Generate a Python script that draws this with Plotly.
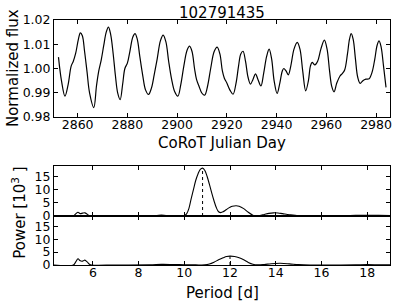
import plotly.graph_objects as go

# ---- Light curve ----
day = [2852.3, 2853.5, 2854.9, 2856.2, 2857.4, 2858.2, 2859.2, 2860.3, 2861.1, 2861.9,
       2862.8, 2863.8, 2864.8, 2866.5, 2867.6, 2868.5, 2869.5, 2870.5, 2871.5, 2872.4,
       2873.3, 2874.3, 2875.2, 2876.1, 2877.1, 2878.1, 2879.0, 2880.0, 2881.0, 2882.2,
       2883.1, 2884.0, 2885.0, 2886.2, 2887.3, 2888.5, 2889.7, 2890.8, 2892.0, 2893.3,
       2894.4, 2895.5, 2896.6, 2897.8, 2899.0, 2900.3, 2901.5, 2902.7, 2904.0, 2905.0,
       2906.0, 2907.0, 2907.8, 2908.7, 2910.0, 2911.1, 2912.3, 2913.5, 2914.9, 2916.1,
       2917.2, 2918.2, 2919.0, 2920.0, 2921.3, 2922.5, 2923.7, 2924.7, 2925.6, 2926.5,
       2927.5, 2928.5, 2929.5, 2930.5, 2931.5, 2932.5, 2933.7, 2934.8, 2936.0, 2937.0,
       2938.0, 2939.0, 2940.2, 2941.3, 2942.3, 2942.9, 2943.8, 2944.7, 2945.7, 2947.0,
       2948.3, 2949.4, 2950.5, 2951.7, 2952.8, 2953.6, 2954.3, 2955.4, 2956.5, 2957.8,
       2959.2, 2960.3, 2961.3, 2962.2, 2963.1, 2964.2, 2965.5, 2966.5, 2967.4, 2968.5,
       2969.3, 2970.0, 2970.8, 2971.7, 2972.6, 2973.6, 2974.7, 2975.9, 2977.2, 2978.4,
       2979.5, 2980.4, 2981.2, 2982.0, 2983.0, 2984.0]
flux = [1.0047, 0.9950, 0.9886, 0.9935, 1.0010, 1.0028, 1.0062, 1.0120, 1.0147, 1.0135,
        1.0070, 0.9985, 0.9900, 0.9839, 0.9930, 0.9990, 1.0036, 1.0095, 1.0150, 1.0171,
        1.0140, 1.0060, 0.9970, 0.9900, 0.9872, 0.9935, 1.0000, 1.0022, 1.0070, 1.0130,
        1.0144, 1.0120, 1.0050, 0.9970, 0.9912, 0.9893, 0.9920, 0.9975, 1.0040, 1.0115,
        1.0138, 1.0110, 1.0030, 0.9955, 0.9905, 0.9886, 0.9935, 1.0010, 1.0075, 1.0092,
        1.0070, 1.0000, 0.9955, 0.9930, 0.9898, 0.9890, 0.9930, 1.0000, 1.0070, 1.0088,
        1.0060, 0.9990, 0.9960, 0.9940, 0.9910, 0.9894, 0.9940, 1.0010, 1.0060, 1.0071,
        1.0030, 0.9965, 0.9936, 0.9955, 0.9978, 0.9955, 0.9928, 0.9980, 1.0050, 1.0080,
        1.0040, 0.9950, 0.9897, 0.9940, 0.9990, 1.0000, 0.9990, 0.9974, 1.0010, 1.0080,
        1.0108, 1.0080, 0.9990, 0.9908, 0.9950, 1.0010, 1.0025, 1.0015, 1.0030, 1.0080,
        1.0117, 1.0080, 0.9990, 0.9925, 0.9904, 0.9940, 0.9969, 0.9980, 0.9995, 1.0060,
        1.0120, 1.0144, 1.0120, 1.0040, 0.9965, 0.9939, 0.9950, 0.9956, 0.9958, 0.9985,
        1.0040, 1.0095, 1.0114, 1.0090, 1.0010, 0.9922]

# ---- Periodogram, upper panel ----
period1 = [4.3, 5.15, 5.25, 5.35, 5.45, 5.55, 5.65, 5.75, 5.85, 5.95, 7.0, 8.5, 8.8, 9.0, 9.2,
           9.5, 9.8, 10.0, 10.1, 10.2, 10.3, 10.4, 10.5, 10.6, 10.7, 10.8, 10.9, 11.0, 11.1,
           11.2, 11.3, 11.4, 11.5, 11.6, 11.7, 11.8, 11.9, 12.0, 12.1, 12.27, 12.4, 12.6, 12.8,
           13.0, 13.1, 13.3, 13.5, 13.7, 13.9, 14.1, 14.3, 14.6, 15.0, 15.5, 16.0, 16.5, 17.0,
           17.5, 18.0, 18.5, 19.0]
power1 = [0.0, 0.0, 0.8, 1.4, 0.9, 1.1, 1.2, 0.7, 0.1, 0.0, 0.0, 0.05, 0.2, 0.35, 0.2,
          0.1, 0.2, 0.1, 0.8, 2.8, 6.5, 10.0, 13.5, 16.0, 17.7, 18.2, 17.3, 15.0, 12.0,
          8.8, 5.8, 3.2, 1.6, 1.3, 1.6, 2.2, 2.8, 3.3, 3.7, 3.9, 3.7, 2.8, 1.4,
          0.3, 0.05, 0.2, 0.6, 1.0, 1.2, 1.15, 0.9, 0.5, 0.1, 0.0, 0.05, 0.05, 0.1,
          0.25, 0.3, 0.25, 0.15]

# ---- Periodogram, lower panel ----
period2 = [4.3, 5.15, 5.25, 5.35, 5.45, 5.55, 5.65, 5.75, 5.85, 5.95, 7.0, 8.5, 9.0, 9.5,
           10.0, 10.5, 10.9, 11.1, 11.3, 11.5, 11.7, 11.85, 12.0, 12.2, 12.4, 12.6, 12.8,
           13.0, 13.2, 13.5, 13.8, 14.2, 14.6, 15.0, 15.5, 16.5, 17.5, 18.0, 18.5, 19.0]
power2 = [0.0, 0.0, 1.2, 2.4, 1.6, 1.5, 1.9, 1.2, 0.3, 0.0, 0.0, 0.05, 0.25, 0.2,
          0.1, 0.05, 0.05, 0.4, 1.1, 2.0, 2.8, 3.3, 3.45, 3.3, 2.8, 2.0, 1.0,
          0.3, 0.05, 0.2, 0.5, 0.65, 0.45, 0.15, 0.0, 0.0, 0.1, 0.15, 0.1, 0.05]

day_ticks = [2860, 2880, 2900, 2920, 2940, 2960, 2980]
flux_ticks = [0.98, 0.99, 1.00, 1.01, 1.02]
period_ticks = [6, 8, 10, 12, 14, 16, 18]
power_ticks = [0, 5, 10, 15]

FONT = "DejaVu Sans"

fig = go.Figure()
fig.add_trace(go.Scatter(x=day, y=flux, mode="lines",
                         line=dict(color="black", width=1.2, shape="spline", smoothing=1.0),
                         xaxis="x", yaxis="y", showlegend=False, hoverinfo="skip"))

i1 = power1.index(max(power1))
i2 = power2.index(max(power2))
fig.add_trace(go.Scatter(x=[period1[i1], period1[i1]], y=[0, power1[i1]], mode="lines",
                         line=dict(color="black", width=1, dash="dot"), xaxis="x2", yaxis="y2",
                         showlegend=False, hoverinfo="skip"))
fig.add_trace(go.Scatter(x=period1, y=power1, mode="lines",
                         line=dict(color="black", width=1.1, shape="spline"),
                         xaxis="x2", yaxis="y2", showlegend=False, hoverinfo="skip"))
fig.add_trace(go.Scatter(x=[period2[i2], period2[i2]], y=[0, power2[i2]], mode="lines",
                         line=dict(color="black", width=1, dash="dot"), xaxis="x3", yaxis="y3",
                         showlegend=False, hoverinfo="skip"))
fig.add_trace(go.Scatter(x=period2, y=power2, mode="lines",
                         line=dict(color="black", width=1.1, shape="spline"),
                         xaxis="x3", yaxis="y3", showlegend=False, hoverinfo="skip"))

common = dict(showline=True, linecolor="black", linewidth=1, mirror="ticks", ticks="inside",
              ticklen=4, tickcolor="black", showgrid=False, zeroline=False, automargin=False,
              tickfont=dict(family=FONT, size=12.5, color="black"))

fig.update_layout(
    width=407, height=305,
    margin=dict(l=54, r=17, t=20, b=40),
    paper_bgcolor="white", plot_bgcolor="white",
    font=dict(family=FONT, color="black"),
    xaxis=dict(domain=[0, 1], anchor="y", range=[2850.5, 2985.6], tickvals=day_ticks,
               ticktext=[str(v) for v in day_ticks], ticklabelstandoff=-4, **common),
    yaxis=dict(domain=[0.604, 1], anchor="x", range=[0.98, 1.02], tickvals=flux_ticks,
               ticktext=["%.2f" % v for v in flux_ticks], **common),
    xaxis2=dict(domain=[0, 1], anchor="y2", range=[4.3, 19], tickvals=period_ticks,
                showticklabels=False, **common),
    yaxis2=dict(domain=[0.2, 0.404], anchor="x2", range=[0, 19], tickvals=power_ticks,
                ticktext=[str(v) for v in power_ticks], **common),
    xaxis3=dict(domain=[0, 1], anchor="y3", range=[4.3, 19], tickvals=period_ticks,
                ticktext=[str(v) for v in period_ticks], ticklabelstandoff=-4, **common),
    yaxis3=dict(domain=[0, 0.2], anchor="x3", range=[0, 19], tickvals=power_ticks,
                ticktext=[str(v) for v in power_ticks], **common),
    annotations=[
        dict(text="102791435", x=0.5, y=1.0298, xref="paper", yref="paper", showarrow=False,
             xanchor="center", yanchor="middle", font=dict(family=FONT, size=15, color="black")),
        dict(text="CoRoT Julian Day", x=0.5, y=0.498, xref="paper", yref="paper", showarrow=False,
             xanchor="center", yanchor="middle", font=dict(family=FONT, size=15, color="black")),
        dict(text="Normalized flux", x=-0.122, y=0.804, xref="paper", yref="paper", showarrow=False,
             textangle=-90, xanchor="center", yanchor="middle",
             font=dict(family=FONT, size=15, color="black")),
        dict(text="Power [10<sup>3</sup> ]", x=-0.105, y=0.212, xref="paper", yref="paper",
             showarrow=False, textangle=-90, xanchor="center", yanchor="middle",
             font=dict(family=FONT, size=15, color="black")),
        dict(text="Period [d]", x=0.5, y=-0.114, xref="paper", yref="paper", showarrow=False,
             xanchor="center", yanchor="middle", font=dict(family=FONT, size=15, color="black")),
    ],
)

fig.write_html("out.html", config={"displayModeBar": False},
               post_script="document.body.style.margin='0';document.body.style.overflow='hidden';")
